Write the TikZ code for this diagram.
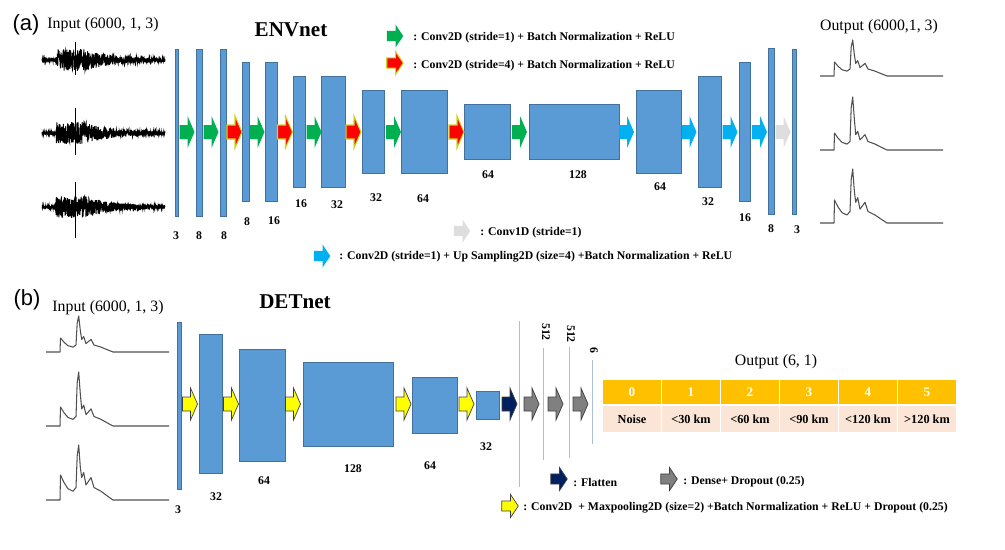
\documentclass[tikz,border=0pt]{standalone}
\usepackage{fontspec}
\setmainfont{Liberation Serif}
\newfontfamily\arialfont{Liberation Sans}
\usetikzlibrary{fit}

\definecolor{layerblue}{HTML}{5B9BD5}
\definecolor{layeredge}{HTML}{41719C}
\definecolor{convgreen}{HTML}{00B050}
\definecolor{convred}{HTML}{FF0000}
\definecolor{redglow}{HTML}{C8D820}
\definecolor{upcyan}{HTML}{00B0F0}
\definecolor{onedgray}{HTML}{DEDEDE}
\definecolor{poolyellow}{HTML}{FFFF00}
\definecolor{flatnavy}{HTML}{002060}
\definecolor{densegray}{HTML}{808080}
\definecolor{headgold}{HTML}{FFC000}
\definecolor{rowpeach}{HTML}{FBE5D6}
\definecolor{denseblue}{HTML}{A9C0D9}
\definecolor{wavegray}{HTML}{505050}

\tikzset{
  layerbox/.style={fill=layerblue, draw=layeredge, line width=0.5pt, inner sep=0pt},
  numlbl/.style={font=\fontsize{6.7}{7}\selectfont\bfseries, inner sep=0pt},
  legtext/.style={font=\fontsize{6.7}{7}\selectfont\bfseries, anchor=west, inner sep=0pt},
  nettitle/.style={font=\fontsize{12}{14}\selectfont\bfseries},
  iotext/.style={font=\fontsize{9}{10}\selectfont},
  panellbl/.style={font=\arialfont\fontsize{12.5}{14}\selectfont},
  blockarrow/.pic={\path[pic actions] (-7.5,-7) -- (0.5,-7) -- (0.5,-16) -- (7.5,0) -- (0.5,16) -- (0.5,7) -- (-7.5,7) -- cycle;},
  legarrow/.style={xscale=1.1, yscale=0.72},
  garrow/.style={fill=convgreen},
  rarrow/.style={fill=convred, draw=redglow, line width=0.6pt},
  carrow/.style={fill=upcyan},
  darrow/.style={fill=onedgray},
  yarrow/.style={fill=poolyellow, draw=black!75, line width=0.4pt},
  narrow/.style={fill=flatnavy, draw=black!75, line width=0.4pt},
  sarrow/.style={fill=densegray, draw=black!75, line width=0.4pt},
  seisline/.style={black, line width=0.55pt},
  envline/.style={wavegray, line width=0.6pt, line join=round},
  denseline/.style={denseblue, line width=0.5pt},
  headcell/.style={fill=headgold, text=white, font=\fontsize{7.5}{8}\selectfont\bfseries,
    minimum width=1.16cm, minimum height=0.48cm, inner sep=0pt},
  rowcell/.style={fill=rowpeach, font=\fontsize{7}{8}\selectfont\bfseries,
    minimum width=1.16cm, minimum height=0.52cm, inner sep=0pt},
  declare function={seisenv(\t)=1.4+(\t>56)*9.5*exp(-max(\t-85,0)/28);}
}

% smooth envelope trace: x0, baseline, bump, peak
\newcommand{\envwave}[4]{%
  \draw[envline] plot coordinates {(#1,#2) ({#1+14},#2) ({#1+14.5},{#2-#3})
    ({#1+18},{#2-0.7*#3}) ({#1+22},{#2-0.45*#3}) ({#1+27},{#2-0.35*#3})
    ({#1+30},{#2-0.5*#3}) ({#1+31.2},{#2-0.8*#4}) ({#1+32.7},{#2-#4})
    ({#1+34.3},{#2-0.6*#4}) ({#1+35.7},{#2-0.9*#3})
    ({#1+37.7},{#2-1.1*#3}) ({#1+40},{#2-0.6*#3}) ({#1+45},{#2-0.9*#3})
    ({#1+48},{#2-0.5*#3}) ({#1+55},{#2-0.35*#3}) ({#1+60},{#2-0.2*#3})
    ({#1+67},#2) ({#1+123},#2)};}

\begin{document}
\begin{tikzpicture}[x=0.02cm, y=-0.02cm]
  \fill[white] (0,0) rectangle (1005,549);
  \useasboundingbox (0,0) rectangle (1005,549);

  % (a) ENVnet
  \node[panellbl] (pa) at (26,25) {(a)};
  \node[iotext] (ina) at (103,25) {Input (6000, 1, 3)};
  \node[nettitle] (envnet) at (291,30) {ENVnet};
  \node[iotext] (outa) at (879,27) {Output (6000,1, 3)};

  \pgfmathsetseed{42}
  \foreach \base/\up/\dn in {60/18/15, 133/25/22, 207/25/31} {
    \draw[seisline] plot[domain=42:165, samples=700] (\x, {\base + seisenv(\x)*rand});
    \draw[seisline] (75,{\base-\up}) -- (75,{\base+\dn});
  }

  \foreach \n/\xa/\ya/\xb/\yb/\lx/\ly/\lab in {
      e1/175/49/178/216/176/236/3, e2/196/49/202/216/199/236/8,
      e3/220/49/226/216/224/236/8, e4/242/62/249/201/247/222/8,
      e5/265/62/277/201/274/221/16, e6/293/76/305/187/301/204/16,
      e7/321/76/345/187/337/205/32, e8/362/90/384/173/376/198/32,
      e9/401/90/447/173/423/199/64, e10/464/104/510/159/488/175/64,
      e11/529/104/619/159/578/175/128, e12/636/90/681/173/660/187/64,
      e13/698/76/721/187/708/202/32, e14/739/62/750/201/745/218/16,
      e15/768/48/774/214/771/229/8, e16/792/49/796/214/797/230/3} {
    \node[layerbox, fit={(\xa,\ya) (\xb,\yb)}] (\n) {};
    \node[numlbl] (\n-lbl) at (\lx,\ly) {\lab};
  }

  \foreach \x in {187,211,257,314,393.5,519.5} \pic[garrow] at (\x,132) {blockarrow};
  \foreach \x in {234.5,285,353.5,456.5} \pic[rarrow] at (\x,132) {blockarrow};
  \foreach \x in {626.5,689,730,759.5} \pic[carrow] at (\x,132) {blockarrow};
  \pic[darrow] at (783,132) {blockarrow};

  \envwave{820}{76}{14}{36}
  \envwave{820}{150}{17}{53}
  \envwave{820}{223}{23}{54}

  \pic[garrow, legarrow] at (395,36) {blockarrow};
  \node[legtext] (lg) at (413,38) {: Conv2D (stride=1) + Batch Normalization + ReLU};
  \pic[rarrow, legarrow] at (395,63) {blockarrow};
  \node[legtext] (lr) at (413,66) {: Conv2D (stride=4) + Batch Normalization + ReLU};
  \pic[darrow, legarrow] at (462,231) {blockarrow};
  \node[legtext] (ld) at (480,233) {: Conv1D (stride=1)};
  \pic[carrow, legarrow] at (322,256) {blockarrow};
  \node[legtext] (lc) at (339,257) {: Conv2D (stride=1) + Up Sampling2D (size=4) +Batch Normalization + ReLU};

  % (b) DETnet
  \node[panellbl] (pb) at (27,300) {(b)};
  \node[iotext] (inb) at (108,308) {Input (6000, 1, 3)};
  \node[nettitle] (detnet) at (295,302) {DETnet};
  \node[iotext] (outb) at (776,362) {Output (6, 1)};

  \envwave{46}{352}{14}{36}
  \envwave{46}{426}{19}{54}
  \envwave{46}{500}{25}{55}

  \foreach \n/\xa/\ya/\xb/\yb/\lx/\ly/\lab in {
      d1/177/322/181/489/178/510/3, d2/199/334/222/473/216/497/32,
      d3/239/349/285/461/264/481/64, d4/303/362/393/446/353/469/128,
      d5/412/377/457/433/430/466/64, d6/476/391/499/419/486/447/32} {
    \node[layerbox, fit={(\xa,\ya) (\xb,\yb)}] (\n) {};
    \node[numlbl] (\n-lbl) at (\lx,\ly) {\lab};
  }

  \foreach \x in {190,231,293,403.5,466.5} \pic[yarrow] at (\x,404) {blockarrow};
  \pic[narrow] at (509.5,404) {blockarrow};
  \foreach \x in {531.5,555.5,580.5} \pic[sarrow] at (\x,404) {blockarrow};

  \draw[denseline] (519,321) -- (519,487);
  \draw[denseline] (543,348) -- (543,460);
  \draw[denseline] (569,347) -- (569,458);
  \draw[denseline] (592,360) -- (592,444);
  \node[numlbl, rotate=-90] (n1) at (546,332) {512};
  \node[numlbl, rotate=-90] (n2) at (571,334) {512};
  \node[numlbl, rotate=-90] (n3) at (594,350) {6};

  \foreach \i/\lab in {0/Noise, 1/{<30 km}, 2/{<60 km}, 3/{<90 km}, 4/{<120 km}, 5/{>120 km}} {
    \node[headcell] (h\i) at ({632+59*\i},392) {\i};
    \node[rowcell] (r\i) at ({632+59*\i},419) {\lab};
  }

  \pic[narrow, legarrow] at (559,479) {blockarrow};
  \node[legtext] (ln) at (573,482) {: Flatten};
  \pic[sarrow, legarrow] at (669,479) {blockarrow};
  \node[legtext] (ls) at (683,482) {: Dense+ Dropout (0.25)};
  \pic[yarrow, legarrow] at (510,506) {blockarrow};
  \node[legtext] (ly) at (523,508) {: Conv2D\ \ + Maxpooling2D (size=2) +Batch Normalization + ReLU + Dropout (0.25)};
\end{tikzpicture}
\end{document}
